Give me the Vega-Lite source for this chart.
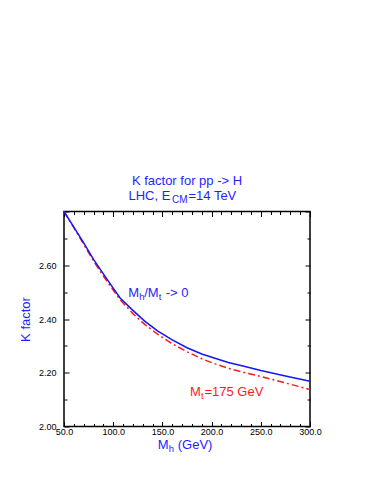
{
  "$schema": "https://vega.github.io/schema/vega-lite/v6.json",
  "width": 246,
  "height": 215,
  "autosize": {"type": "none"},
  "padding": {"left": 64, "top": 211.5, "right": 64, "bottom": 58.5},
  "background": "white",
  "config": {
    "view": {"stroke": "black", "strokeWidth": 1.5},
    "font": "Liberation Sans",
    "axis": {"domain": false, "grid": false, "tickColor": "black", "tickWidth": 1, "labelFont": "Liberation Sans", "labelColor": "black", "labelFontSize": 9}
  },
  "datasets": {
    "curves": [
      {"m": 50, "k": 2.800, "series": "Mt=175 GeV"},
      {"m": 60, "k": 2.740, "series": "Mt=175 GeV"},
      {"m": 70, "k": 2.678, "series": "Mt=175 GeV"},
      {"m": 80, "k": 2.616, "series": "Mt=175 GeV"},
      {"m": 90, "k": 2.560, "series": "Mt=175 GeV"},
      {"m": 100, "k": 2.508, "series": "Mt=175 GeV"},
      {"m": 107, "k": 2.472, "series": "Mt=175 GeV"},
      {"m": 120, "k": 2.420, "series": "Mt=175 GeV"},
      {"m": 132, "k": 2.380, "series": "Mt=175 GeV"},
      {"m": 145, "k": 2.344, "series": "Mt=175 GeV"},
      {"m": 160, "k": 2.308, "series": "Mt=175 GeV"},
      {"m": 175, "k": 2.278, "series": "Mt=175 GeV"},
      {"m": 190, "k": 2.252, "series": "Mt=175 GeV"},
      {"m": 205, "k": 2.231, "series": "Mt=175 GeV"},
      {"m": 220, "k": 2.213, "series": "Mt=175 GeV"},
      {"m": 250, "k": 2.186, "series": "Mt=175 GeV"},
      {"m": 275, "k": 2.162, "series": "Mt=175 GeV"},
      {"m": 300, "k": 2.138, "series": "Mt=175 GeV"},
      {"m": 50, "k": 2.800, "series": "Mh/Mt -> 0"},
      {"m": 60, "k": 2.742, "series": "Mh/Mt -> 0"},
      {"m": 70, "k": 2.683, "series": "Mh/Mt -> 0"},
      {"m": 80, "k": 2.622, "series": "Mh/Mt -> 0"},
      {"m": 90, "k": 2.568, "series": "Mh/Mt -> 0"},
      {"m": 100, "k": 2.515, "series": "Mh/Mt -> 0"},
      {"m": 107, "k": 2.478, "series": "Mh/Mt -> 0"},
      {"m": 120, "k": 2.432, "series": "Mh/Mt -> 0"},
      {"m": 132, "k": 2.392, "series": "Mh/Mt -> 0"},
      {"m": 145, "k": 2.356, "series": "Mh/Mt -> 0"},
      {"m": 160, "k": 2.322, "series": "Mh/Mt -> 0"},
      {"m": 175, "k": 2.293, "series": "Mh/Mt -> 0"},
      {"m": 190, "k": 2.270, "series": "Mh/Mt -> 0"},
      {"m": 205, "k": 2.252, "series": "Mh/Mt -> 0"},
      {"m": 217, "k": 2.238, "series": "Mh/Mt -> 0"},
      {"m": 235, "k": 2.222, "series": "Mh/Mt -> 0"},
      {"m": 250, "k": 2.208, "series": "Mh/Mt -> 0"},
      {"m": 275, "k": 2.188, "series": "Mh/Mt -> 0"},
      {"m": 300, "k": 2.168, "series": "Mh/Mt -> 0"}
    ],
    "t1": [{"m": 175, "k": 2.915, "text": "K factor for pp -> H"}],
    "t2": [{"m": 115.5, "k": 2.859}],
    "xt": [{"m": 145.3, "k": 1.931}],
    "a1": [{"m": 115.3, "k": 2.498}],
    "a2": [{"m": 178, "k": 2.127}]
  },
  "layer": [
    {
      "data": {"name": "curves"},
      "transform": [{"filter": "datum.series === 'Mt=175 GeV'"}],
      "mark": {"type": "line", "color": "#ff1a1a", "strokeWidth": 1.5, "strokeDash": [7, 3, 2, 3]},
      "encoding": {
        "x": {"field": "m", "type": "quantitative",
          "scale": {"domain": [50, 300], "nice": false, "zero": false},
          "axis": {"orient": "bottom", "title": null,
            "values": [50,60,70,80,90,100,110,120,130,140,150,160,170,180,190,200,210,220,230,240,250,260,270,280,290,300],
            "labelExpr": "datum.value % 50 === 0 ? format(datum.value, '.1f') : ''",
            "tickSize": {"condition": {"test": "datum.value % 50 === 0", "value": -5}, "value": -3},
            "labelPadding": 6, "labelOverlap": false, "labelFlush": false}},
        "y": {"field": "k", "type": "quantitative",
          "scale": {"domain": [2.0, 2.8], "nice": false, "zero": false},
          "axis": {"orient": "left", "title": "K factor", "titleColor": "#1f1fff", "titleFontSize": 13, "titleFontWeight": "normal", "titleFont": "Liberation Sans", "titlePadding": 6,
            "values": [2.0,2.1,2.2,2.3,2.4,2.5,2.6,2.7,2.8],
            "labelExpr": "round(datum.value * 10) % 2 === 0 && datum.value < 2.75 ? format(datum.value, '.2f') : ''",
            "tickSize": {"condition": {"test": "round(datum.value * 10) % 2 === 0", "value": -5}, "value": -3},
            "labelPadding": 13, "labelOverlap": false, "labelFlush": false}}
      }
    },
    {
      "data": {"name": "curves"},
      "transform": [{"filter": "datum.series === 'Mh/Mt -> 0'"}],
      "mark": {"type": "line", "color": "#1414ff", "strokeWidth": 1.5},
      "encoding": {
        "x": {"field": "m", "type": "quantitative",
          "scale": {"domain": [50, 300], "nice": false, "zero": false},
          "axis": {"orient": "top", "title": null, "labels": false,
            "values": [50,60,70,80,90,100,110,120,130,140,150,160,170,180,190,200,210,220,230,240,250,260,270,280,290,300],
            "tickSize": {"condition": {"test": "datum.value % 50 === 0", "value": -5}, "value": -3}}},
        "y": {"field": "k", "type": "quantitative",
          "scale": {"domain": [2.0, 2.8], "nice": false, "zero": false},
          "axis": {"orient": "right", "title": null, "labels": false,
            "values": [2.0,2.1,2.2,2.3,2.4,2.5,2.6,2.7,2.8],
            "tickSize": {"condition": {"test": "round(datum.value * 10) % 2 === 0", "value": -5}, "value": -3}}}
      }
    },
    {
      "data": {"name": "t1"},
      "mark": {"type": "text", "color": "#1f1fff", "fontSize": 13, "align": "center", "baseline": "middle"},
      "encoding": {
        "x": {"field": "m", "type": "quantitative", "scale": {"domain": [50, 300], "nice": false, "zero": false}, "axis": null},
        "y": {"field": "k", "type": "quantitative", "scale": {"domain": [2.0, 2.8], "nice": false, "zero": false}, "axis": null},
        "text": {"field": "text"}
      }
    },
    {
      "data": {"name": "t2"},
      "layer": [
        {"mark": {"type": "text", "color": "#1f1fff", "fontSize": 13, "align": "left", "baseline": "middle", "text": "LHC, E"}},
        {"mark": {"type": "text", "color": "#1f1fff", "fontSize": 10, "align": "left", "baseline": "middle", "text": "CM", "dx": 43.5, "dy": 4}},
        {"mark": {"type": "text", "color": "#1f1fff", "fontSize": 13, "align": "left", "baseline": "middle", "text": "=14 TeV", "dx": 60}}
      ],
      "encoding": {
        "x": {"field": "m", "type": "quantitative", "scale": {"domain": [50, 300], "nice": false, "zero": false}, "axis": null},
        "y": {"field": "k", "type": "quantitative", "scale": {"domain": [2.0, 2.8], "nice": false, "zero": false}, "axis": null}
      }
    },
    {
      "data": {"name": "xt"},
      "layer": [
        {"mark": {"type": "text", "color": "#1f1fff", "fontSize": 13, "align": "left", "baseline": "middle", "text": "M"}},
        {"mark": {"type": "text", "color": "#1f1fff", "fontSize": 9.5, "align": "left", "baseline": "middle", "text": "h", "dx": 11, "dy": 4}},
        {"mark": {"type": "text", "color": "#1f1fff", "fontSize": 13, "align": "left", "baseline": "middle", "text": "(GeV)", "dx": 20}}
      ],
      "encoding": {
        "x": {"field": "m", "type": "quantitative", "scale": {"domain": [50, 300], "nice": false, "zero": false}, "axis": null},
        "y": {"field": "k", "type": "quantitative", "scale": {"domain": [2.0, 2.8], "nice": false, "zero": false}, "axis": null}
      }
    },
    {
      "data": {"name": "a1"},
      "layer": [
        {"mark": {"type": "text", "color": "#1f1fff", "fontSize": 13, "align": "left", "baseline": "middle", "text": "M"}},
        {"mark": {"type": "text", "color": "#1f1fff", "fontSize": 9.5, "align": "left", "baseline": "middle", "text": "h", "dx": 11, "dy": 4}},
        {"mark": {"type": "text", "color": "#1f1fff", "fontSize": 13, "align": "left", "baseline": "middle", "text": "/M", "dx": 16}},
        {"mark": {"type": "text", "color": "#1f1fff", "fontSize": 9.5, "align": "left", "baseline": "middle", "text": "t", "dx": 30.5, "dy": 4}},
        {"mark": {"type": "text", "color": "#1f1fff", "fontSize": 13, "align": "left", "baseline": "middle", "text": "-> 0", "dx": 37.5}}
      ],
      "encoding": {
        "x": {"field": "m", "type": "quantitative", "scale": {"domain": [50, 300], "nice": false, "zero": false}, "axis": null},
        "y": {"field": "k", "type": "quantitative", "scale": {"domain": [2.0, 2.8], "nice": false, "zero": false}, "axis": null}
      }
    },
    {
      "data": {"name": "a2"},
      "layer": [
        {"mark": {"type": "text", "color": "#ff1a1a", "fontSize": 13, "align": "left", "baseline": "middle", "text": "M"}},
        {"mark": {"type": "text", "color": "#ff1a1a", "fontSize": 9.5, "align": "left", "baseline": "middle", "text": "t", "dx": 11, "dy": 4}},
        {"mark": {"type": "text", "color": "#ff1a1a", "fontSize": 13, "align": "left", "baseline": "middle", "text": "=175 GeV", "dx": 14.5}}
      ],
      "encoding": {
        "x": {"field": "m", "type": "quantitative", "scale": {"domain": [50, 300], "nice": false, "zero": false}, "axis": null},
        "y": {"field": "k", "type": "quantitative", "scale": {"domain": [2.0, 2.8], "nice": false, "zero": false}, "axis": null}
      }
    }
  ],
  "resolve": {"scale": {"x": "independent", "y": "independent"}, "axis": {"x": "independent", "y": "independent"}}
}
